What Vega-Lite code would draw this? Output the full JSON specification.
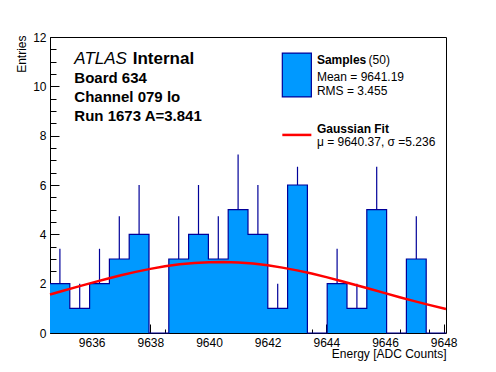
{
  "$schema": "https://vega.github.io/schema/vega-lite/v6.json",
  "width": 396,
  "height": 296,
  "autosize": {"type": "none"},
  "padding": {"left": 50, "top": 37, "right": 50, "bottom": 39},
  "background": "white",
  "config": {
    "view": {"stroke": "black", "strokeWidth": 1},
    "font": "Liberation Sans",
    "axis": {
      "domain": false, "grid": false, "tickColor": "black", "labelColor": "black",
      "labelFont": "Liberation Sans", "labelFontSize": 12, "titleFont": "Liberation Sans",
      "titleFontSize": 12, "titleFontWeight": "normal", "titleColor": "black"
    }
  },
  "datasets": {
    "hist": [
      {"e": 9634.58, "c": 2}, {"e": 9635.255, "c": 1}, {"e": 9635.93, "c": 2}, {"e": 9636.605, "c": 3},
      {"e": 9637.28, "c": 4}, {"e": 9637.955, "c": 0}, {"e": 9638.63, "c": 3}, {"e": 9639.305, "c": 4},
      {"e": 9639.98, "c": 3}, {"e": 9640.655, "c": 5}, {"e": 9641.33, "c": 4}, {"e": 9642.005, "c": 1},
      {"e": 9642.68, "c": 6}, {"e": 9643.355, "c": 0}, {"e": 9644.03, "c": 2}, {"e": 9644.705, "c": 1},
      {"e": 9645.38, "c": 5}, {"e": 9646.055, "c": 0}, {"e": 9646.73, "c": 3}, {"e": 9647.405, "c": 0},
      {"e": 9648.08, "c": 0}
    ]
  },
  "resolve": {"axis": {"x": "independent", "y": "independent"}},
  "layer": [
    {
      "data": {"name": "hist"},
      "mark": {"type": "area", "interpolate": "step-after", "color": "#0099ff"},
      "encoding": {
        "x": {"field": "e", "type": "quantitative", "scale": {"domain": [9634.58, 9648.08], "nice": false, "zero": false},
          "axis": {"orient": "bottom", "values": [9636, 9638, 9640, 9642, 9644, 9646, 9648], "format": "d", "tickSize": -9,
            "labelPadding": 13, "title": "Energy [ADC Counts]", "titleAnchor": null, "titleX": 396, "titleY": 24,
            "titleAlign": "right", "titleBaseline": "alphabetic"}},
        "y": {"field": "c", "type": "quantitative", "scale": {"domain": [0, 12], "nice": false},
          "axis": {"orient": "left", "values": [0, 2, 4, 6, 8, 10, 12], "tickSize": -9, "labelPadding": 13,
            "title": "Entries", "titleAngle": -90, "titleAnchor": null, "titleX": -25, "titleY": -2,
            "titleAlign": "right", "titleBaseline": "alphabetic"}}
      }
    },
    {
      "data": {"name": "hist"},
      "mark": {"type": "line", "interpolate": "step-after", "color": "#000099", "strokeWidth": 1.2},
      "encoding": {
        "x": {"field": "e", "type": "quantitative", "scale": {"domain": [9634.58, 9648.08], "nice": false, "zero": false}, "axis": null},
        "y": {"field": "c", "type": "quantitative", "scale": {"domain": [0, 12], "nice": false}, "axis": null}
      }
    },
    {
      "data": {"values": [
        {"xc": 9634.9175, "lo": 2, "hi": 3.414}, {"xc": 9635.5925, "lo": 1, "hi": 2}, {"xc": 9636.2675, "lo": 2, "hi": 3.414},
        {"xc": 9636.9425, "lo": 3, "hi": 4.732}, {"xc": 9637.6175, "lo": 4, "hi": 6}, {"xc": 9638.9675, "lo": 3, "hi": 4.732},
        {"xc": 9639.6425, "lo": 4, "hi": 6}, {"xc": 9640.3175, "lo": 3, "hi": 4.732}, {"xc": 9640.9925, "lo": 5, "hi": 7.236},
        {"xc": 9641.6675, "lo": 4, "hi": 6}, {"xc": 9642.3425, "lo": 1, "hi": 2}, {"xc": 9643.0175, "lo": 6, "hi": 6.74},
        {"xc": 9644.3675, "lo": 2, "hi": 3.414}, {"xc": 9645.0425, "lo": 1, "hi": 2}, {"xc": 9645.7175, "lo": 5, "hi": 6.74},
        {"xc": 9647.0675, "lo": 3, "hi": 4.732}
      ]},
      "mark": {"type": "rule", "color": "#000099", "strokeWidth": 1.2},
      "encoding": {
        "x": {"field": "xc", "type": "quantitative", "scale": {"domain": [9634.58, 9648.08], "nice": false, "zero": false},
          "axis": {"orient": "bottom", "values": [9635, 9635.5, 9636, 9636.5, 9637, 9637.5, 9638, 9638.5, 9639, 9639.5, 9640, 9640.5, 9641, 9641.5, 9642, 9642.5, 9643, 9643.5, 9644, 9644.5, 9645, 9645.5, 9646, 9646.5, 9647, 9647.5, 9648],
            "labels": false, "tickSize": -4, "title": null}},
        "y": {"field": "lo", "type": "quantitative", "scale": {"domain": [0, 12], "nice": false},
          "axis": {"orient": "left", "values": [0, 0.5, 1, 1.5, 2, 2.5, 3, 3.5, 4, 4.5, 5, 5.5, 6, 6.5, 7, 7.5, 8, 8.5, 9, 9.5, 10, 10.5, 11, 11.5, 12],
            "labels": false, "tickSize": -6, "title": null}},
        "y2": {"field": "hi"}
      }
    },
    {
      "data": {"values": [
        {"x": 9634.58, "y": 1.563}, {"x": 9635.0, "y": 1.702}, {"x": 9635.5, "y": 1.869}, {"x": 9636.0, "y": 2.033},
        {"x": 9636.5, "y": 2.191}, {"x": 9637.0, "y": 2.341}, {"x": 9637.5, "y": 2.478}, {"x": 9638.0, "y": 2.599},
        {"x": 9638.5, "y": 2.702}, {"x": 9639.0, "y": 2.783}, {"x": 9639.5, "y": 2.841}, {"x": 9640.0, "y": 2.873},
        {"x": 9640.5, "y": 2.879}, {"x": 9641.0, "y": 2.859}, {"x": 9641.5, "y": 2.814}, {"x": 9642.0, "y": 2.744},
        {"x": 9642.5, "y": 2.651}, {"x": 9643.0, "y": 2.539}, {"x": 9643.5, "y": 2.409}, {"x": 9644.0, "y": 2.265},
        {"x": 9644.5, "y": 2.11}, {"x": 9645.0, "y": 1.948}, {"x": 9645.5, "y": 1.782}, {"x": 9646.0, "y": 1.616},
        {"x": 9646.5, "y": 1.451}, {"x": 9647.0, "y": 1.292}, {"x": 9647.5, "y": 1.14}, {"x": 9648.08, "y": 0.974}
      ]},
      "mark": {"type": "line", "color": "#ff0000", "strokeWidth": 2.5},
      "encoding": {
        "x": {"field": "x", "type": "quantitative", "scale": {"domain": [9634.58, 9648.08], "nice": false, "zero": false}, "axis": null},
        "y": {"field": "y", "type": "quantitative", "scale": {"domain": [0, 12], "nice": false}, "axis": null}
      }
    },
    {
      "data": {"values": [{"x1": 9642.5, "x2": 9643.49, "y1": 9.57, "y2": 11.35}]},
      "mark": {"type": "rect", "color": "#0099ff", "stroke": "#000099", "strokeWidth": 1.2},
      "encoding": {
        "x": {"field": "x1", "type": "quantitative", "scale": {"domain": [9634.58, 9648.08], "nice": false, "zero": false}, "axis": null},
        "x2": {"field": "x2"},
        "y": {"field": "y1", "type": "quantitative", "scale": {"domain": [0, 12], "nice": false}, "axis": null},
        "y2": {"field": "y2"}
      }
    },
    {
      "data": {"values": [{"x": 9642.5, "y": 8.03}, {"x": 9643.49, "y": 8.03}]},
      "mark": {"type": "line", "color": "#ff0000", "strokeWidth": 2.5},
      "encoding": {
        "x": {"field": "x", "type": "quantitative", "scale": {"domain": [9634.58, 9648.08], "nice": false, "zero": false}, "axis": null},
        "y": {"field": "y", "type": "quantitative", "scale": {"domain": [0, 12], "nice": false}, "axis": null}
      }
    },
    {
      "data": {"values": [{"x": 9635.41, "y": 10.9, "t": "ATLAS"}]},
      "mark": {"type": "text", "align": "left", "baseline": "alphabetic", "fontSize": 17, "fontStyle": "italic", "font": "Liberation Sans", "color": "black"},
      "encoding": {
        "x": {"field": "x", "type": "quantitative", "scale": {"domain": [9634.58, 9648.08], "nice": false, "zero": false}, "axis": null},
        "y": {"field": "y", "type": "quantitative", "scale": {"domain": [0, 12], "nice": false}, "axis": null},
        "text": {"field": "t"}
      }
    },
    {
      "data": {"values": [
        {"x": 9637.4, "y": 10.9, "t": "Internal", "s": 17},
        {"x": 9635.41, "y": 10.13, "t": "Board 634", "s": 15},
        {"x": 9635.41, "y": 9.36, "t": "Channel 079 lo", "s": 15},
        {"x": 9635.41, "y": 8.59, "t": "Run 1673 A=3.841", "s": 15},
        {"x": 9643.68, "y": 10.9, "t": "Samples", "s": 12},
        {"x": 9643.68, "y": 8.11, "t": "Gaussian Fit", "s": 12}
      ]},
      "mark": {"type": "text", "align": "left", "baseline": "alphabetic", "fontWeight": "bold", "font": "Liberation Sans", "color": "black"},
      "encoding": {
        "x": {"field": "x", "type": "quantitative", "scale": {"domain": [9634.58, 9648.08], "nice": false, "zero": false}, "axis": null},
        "y": {"field": "y", "type": "quantitative", "scale": {"domain": [0, 12], "nice": false}, "axis": null},
        "text": {"field": "t"},
        "size": {"field": "s", "type": "quantitative", "scale": null}
      }
    },
    {
      "data": {"values": [
        {"x": 9645.44, "y": 10.9, "t": "(50)"},
        {"x": 9643.68, "y": 10.2, "t": "Mean = 9641.19"},
        {"x": 9643.68, "y": 9.66, "t": "RMS = 3.455"},
        {"x": 9643.68, "y": 7.58, "t": "μ = 9640.37, σ =5.236"}
      ]},
      "mark": {"type": "text", "align": "left", "baseline": "alphabetic", "fontSize": 12, "font": "Liberation Sans", "color": "black"},
      "encoding": {
        "x": {"field": "x", "type": "quantitative", "scale": {"domain": [9634.58, 9648.08], "nice": false, "zero": false}, "axis": null},
        "y": {"field": "y", "type": "quantitative", "scale": {"domain": [0, 12], "nice": false}, "axis": null},
        "text": {"field": "t"}
      }
    }
  ]
}
